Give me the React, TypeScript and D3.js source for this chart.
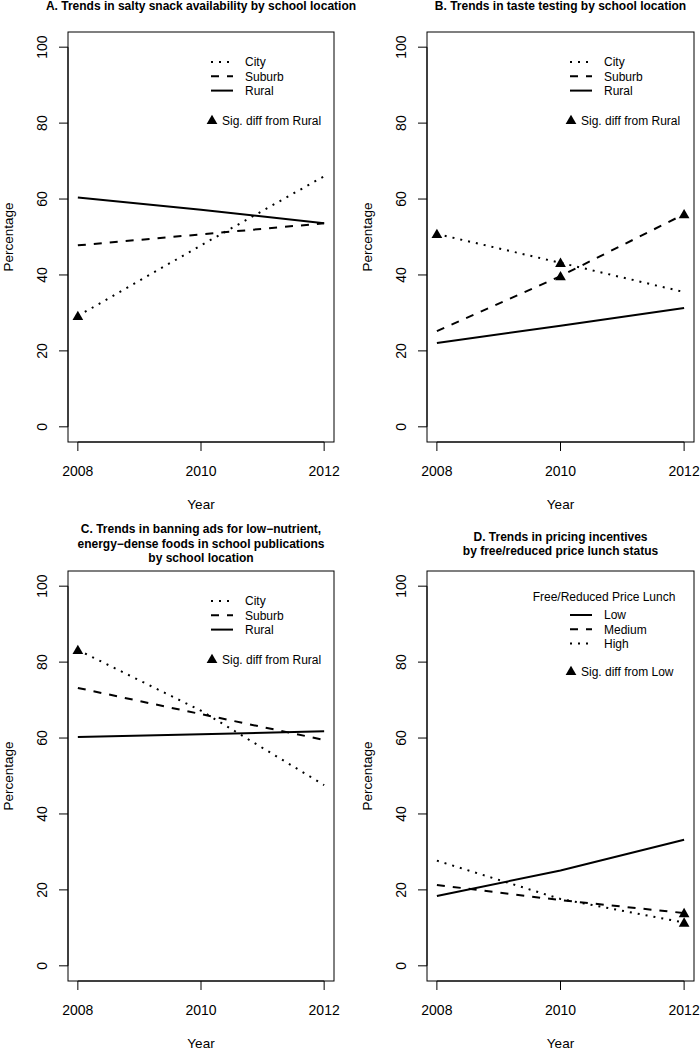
import React from "react";
import * as d3 from "d3";

const years = [2008, 2010, 2012];
const yTicks = [0, 20, 40, 60, 80, 100];

// Panel A: salty snack availability
const aCity = [29.2, 47.8, 66.0];
const aSuburb = [47.8, 50.7, 53.6];
const aRural = [60.4, 57.2, 53.6];
const aCitySig = [true, false, false];
const aSuburbSig = [false, false, false];

// Panel B: taste testing
const bCity = [50.8, 43.2, 35.5];
const bSuburb = [25.2, 39.7, 56.0];
const bRural = [22.1, 26.6, 31.3];
const bCitySig = [true, true, false];
const bSuburbSig = [false, true, true];

// Panel C: banning ads
const cCity = [83.2, 67.2, 47.6];
const cSuburb = [73.2, 66.3, 59.5];
const cRural = [60.3, 61.0, 61.8];
const cCitySig = [true, false, false];
const cSuburbSig = [false, false, false];

// Panel D: pricing incentives
const dLow = [18.4, 25.1, 33.2];
const dMedium = [21.3, 17.3, 13.9];
const dHigh = [27.7, 17.6, 11.4];
const dMediumSig = [false, false, true];
const dHighSig = [false, false, true];

const titleA = ["A. Trends in salty snack availability by school location"];
const titleB = ["B. Trends in taste testing by school location"];
const titleC = [
  "C. Trends in banning ads for low\u2212nutrient,",
  "energy\u2212dense foods in school publications",
  "by school location",
];
const titleD = ["D. Trends in pricing incentives", "by free/reduced price lunch status"];

const FONT = "'Liberation Sans', Arial, Helvetica, sans-serif";
const DOT = "2,6";
const DASH = "8,8";

type Series = { name: string; values: number[]; dash: string | null; sig?: boolean[] };
type PanelDef = {
  left: number;
  right: number;
  top: number;
  bottom: number;
  title: string[];
  titleBaselines: number[];
  series: Series[];
  legendTitle?: string;
  sigLabel: string;
};

const panels: PanelDef[] = [
  {
    left: 68, right: 334, top: 32, bottom: 442,
    title: titleA, titleBaselines: [9.5],
    series: [
      { name: "City", values: aCity, dash: DOT, sig: aCitySig },
      { name: "Suburb", values: aSuburb, dash: DASH, sig: aSuburbSig },
      { name: "Rural", values: aRural, dash: null },
    ],
    sigLabel: "Sig. diff from Rural",
  },
  {
    left: 427, right: 694, top: 32, bottom: 442,
    title: titleB, titleBaselines: [9.5],
    series: [
      { name: "City", values: bCity, dash: DOT, sig: bCitySig },
      { name: "Suburb", values: bSuburb, dash: DASH, sig: bSuburbSig },
      { name: "Rural", values: bRural, dash: null },
    ],
    sigLabel: "Sig. diff from Rural",
  },
  {
    left: 68, right: 334, top: 571, bottom: 981,
    title: titleC, titleBaselines: [533, 547.5, 562],
    series: [
      { name: "City", values: cCity, dash: DOT, sig: cCitySig },
      { name: "Suburb", values: cSuburb, dash: DASH, sig: cSuburbSig },
      { name: "Rural", values: cRural, dash: null },
    ],
    sigLabel: "Sig. diff from Rural",
  },
  {
    left: 427, right: 694, top: 571, bottom: 981,
    title: titleD, titleBaselines: [540.5, 555],
    series: [
      { name: "Low", values: dLow, dash: null },
      { name: "Medium", values: dMedium, dash: DASH, sig: dMediumSig },
      { name: "High", values: dHigh, dash: DOT, sig: dHighSig },
    ],
    legendTitle: "Free/Reduced Price Lunch",
    sigLabel: "Sig. diff from Low",
  },
];

const triangle = d3.symbol().type(d3.symbolTriangle).size(50)();

function Panel({ p }: { p: PanelDef }) {
  const x = d3.scaleLinear().domain([2008 - 0.16, 2012 + 0.16]).range([p.left, p.right]);
  const y = d3.scaleLinear().domain([-4, 104]).range([p.bottom, p.top]);
  const line = d3
    .line<number>()
    .x((_, i) => x(years[i]))
    .y((v) => y(v));
  const cx = (p.left + p.right) / 2;
  const cy = (p.top + p.bottom) / 2;
  const hasTitle = !!p.legendTitle;
  const rowStart = p.top + (hasTitle ? 44 : 30);
  const rowGap = 14.3;
  const sigY = hasTitle ? p.top + 101 : p.top + 89;
  const lx0 = p.left + 143;
  const lx1 = p.left + 165;
  const tx = p.left + 177;

  return (
    <g>
      {p.title.map((t, i) => (
        <text key={i} x={cx} y={p.titleBaselines[i]} textAnchor="middle" fontWeight="bold" fontSize={12}>
          {t}
        </text>
      ))}
      <rect x={p.left} y={p.top} width={p.right - p.left} height={p.bottom - p.top} fill="none" stroke="#000" strokeWidth={1} />
      <line x1={p.left} x2={p.left} y1={y(0)} y2={y(100)} stroke="#000" />
      {yTicks.map((t) => (
        <g key={t}>
          <line x1={p.left - 9} x2={p.left} y1={y(t)} y2={y(t)} stroke="#000" />
          <text
            transform={`translate(${p.left - 21},${y(t)}) rotate(-90)`}
            textAnchor="middle"
            fontSize={14}
          >
            {t}
          </text>
        </g>
      ))}
      <line x1={x(2008)} x2={x(2012)} y1={p.bottom} y2={p.bottom} stroke="#000" />
      {years.map((t) => (
        <g key={t}>
          <line x1={x(t)} x2={x(t)} y1={p.bottom} y2={p.bottom + 9} stroke="#000" />
          <text x={x(t)} y={p.bottom + 34} textAnchor="middle" fontSize={14}>
            {t}
          </text>
        </g>
      ))}
      <text x={cx} y={p.bottom + 67} textAnchor="middle" fontSize={13.5}>
        Year
      </text>
      <text transform={`translate(${p.left - 55},${cy}) rotate(-90)`} textAnchor="middle" fontSize={13.5}>
        Percentage
      </text>
      {p.series.map((s) => (
        <path
          key={s.name}
          d={line(s.values) || ""}
          fill="none"
          stroke="#000"
          strokeWidth={2}
          strokeDasharray={s.dash || undefined}
        />
      ))}
      {p.series.map((s) =>
        (s.sig || []).map((flag, i) =>
          flag ? (
            <path key={s.name + i} d={triangle || ""} transform={`translate(${x(years[i])},${y(s.values[i]) + 1})`} fill="#000" />
          ) : null
        )
      )}
      {hasTitle && (
        <text x={p.left + 177} y={p.top + 26} dy="0.35em" textAnchor="middle" fontSize={12}>
          {p.legendTitle}
        </text>
      )}
      {p.series.map((s, i) => (
        <g key={"lg" + s.name}>
          <line
            x1={lx0}
            x2={lx1}
            y1={rowStart + i * rowGap}
            y2={rowStart + i * rowGap}
            stroke="#000"
            strokeWidth={2}
            strokeDasharray={s.dash || undefined}
          />
          <text x={tx} y={rowStart + i * rowGap} dy="0.35em" fontSize={12}>
            {s.name}
          </text>
        </g>
      ))}
      <path d={triangle || ""} transform={`translate(${p.left + 144},${sigY})`} fill="#000" />
      <text x={p.left + 154} y={sigY} dy="0.35em" fontSize={12}>
        {p.sigLabel}
      </text>
    </g>
  );
}

export default function App() {
  return (
    <div style={{ position: "absolute", left: 0, top: 0 }}>
      <svg width={700} height={1050} style={{ display: "block", background: "#fff" }} fontFamily={FONT}>
        <rect width={700} height={1050} fill="#fff" />
        {panels.map((p, i) => (
          <Panel key={i} p={p} />
        ))}
      </svg>
    </div>
  );
}
